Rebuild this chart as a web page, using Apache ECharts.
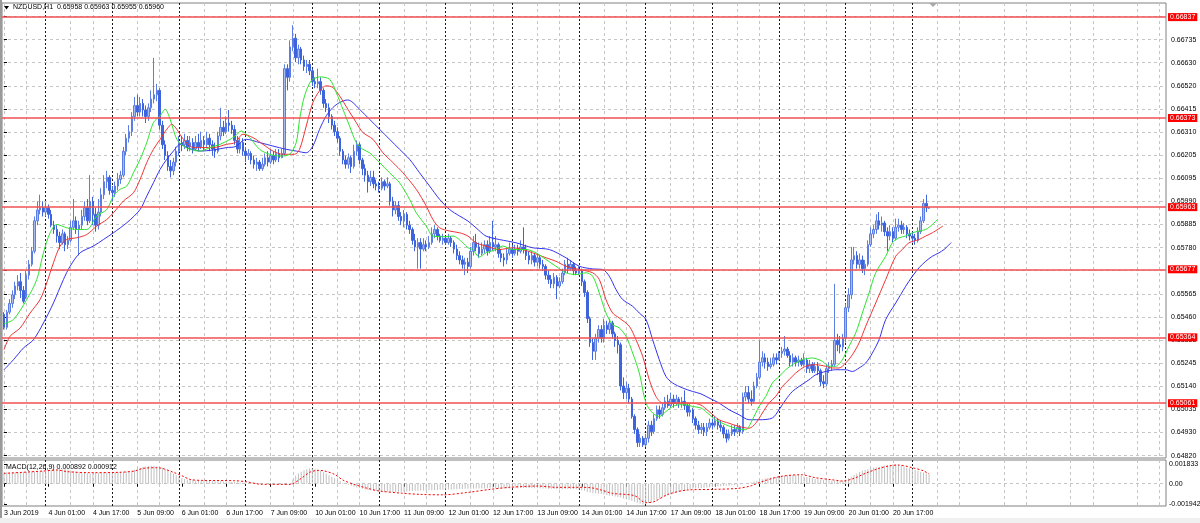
<!DOCTYPE html>
<html><head><meta charset="utf-8">
<script src="https://cdn.jsdelivr.net/npm/echarts@6/dist/echarts.min.js"></script>
<style>html,body{margin:0;padding:0;background:#fff}#c{width:1200px;height:523px}</style>
</head><body><div id="c"></div>
<script>
// ---------- texts ----------
const symbolTitle = 'NZDUSD,H1  0.65958 0.65963 0.65955 0.65960';
const macdTitle = 'MACD(12,26,9) 0.000892 0.000912';
// ---------- time axis (one label every 16 H1 bars, bar 0 = 3 Jun 09:00) ----------
const timeLabels = ['3 Jun 2019','4 Jun 01:00','4 Jun 17:00','5 Jun 09:00','6 Jun 01:00','6 Jun 17:00','7 Jun 09:00',
  '10 Jun 01:00','10 Jun 17:00','11 Jun 09:00','12 Jun 01:00','12 Jun 17:00','13 Jun 09:00','14 Jun 01:00',
  '14 Jun 17:00','17 Jun 09:00','18 Jun 01:00','18 Jun 17:00','19 Jun 09:00','20 Jun 01:00','20 Jun 17:00'];
const labelEvery = 16;
const firstDayStartBar = 15;   // 4 Jun 00:00
// ---------- price axis ----------
const priceTickLabels = ['0.64820','0.64930','0.65035','0.65140','0.65245','0.65355','0.65460','0.65565','0.65670','0.65780',
  '0.65885','0.65990','0.66095','0.66205','0.66310','0.66415','0.66520','0.66630','0.66735','0.66840'];
const priceTickStart = 0.64820, priceTickStep = 0.001063;
const levels = [0.66837, 0.66373, 0.65963, 0.65677, 0.65364, 0.65061];
const macdTickValues = [0.001833, 0, -0.001942];
const macdTickLabels = ['0.001833', '0.00', '-0.001942'];
// ---------- candles: [open, close, low, high] in points (1e-5) ----------
const ohlc = [
[65470,65410,65400,65480],[65410,65480,65400,65490],[65480,65520,65470,65540],[65520,65560,65500,65580],[65560,65600,65540,65620],
[65600,65620,65580,65650],[65620,65580,65545,65660],[65580,65530,65520,65600],[65550,65650,65540,65670],[65650,65700,65630,65720],
[65700,65760,65690,65780],[65760,65900,65750,65920],[65900,65950,65880,65990],[65950,65960,65930,66020],[65960,65940,65920,65990],
[65940,65960,65920,65985],[65960,65930,65910,65975],[65930,65880,65870,65950],[65880,65860,65840,65900],[65860,65830,65800,65880],
[65830,65800,65770,65850],[65800,65840,65790,65860],[65840,65790,65760,65850],[65790,65810,65770,65830],[65810,65870,65800,65900],
[65870,65900,65860,66000],[65900,65860,65840,65920],[65860,65880,65740,65900],[65880,65920,65860,65950],[65920,65960,65900,65990],
[65960,65900,65880,66000],[65900,65990,65890,66110],[65990,65930,65880,66010],[65930,65880,65850,65960],[65880,65940,65860,66000],
[65940,66020,65920,66050],[66020,66080,66000,66110],[66080,66100,66050,66130],[66100,66040,66020,66110],[66040,66030,65990,66060],
[66030,66060,66010,66080],[66060,66090,66040,66120],[66090,66110,66070,66130],[66110,66220,66100,66240],[66220,66280,66200,66300],
[66280,66310,66260,66340],[66310,66380,66290,66400],[66380,66430,66360,66470],[66430,66400,66380,66480],[66400,66440,66380,66470],
[66440,66410,66380,66460],[66410,66380,66350,66430],[66380,66420,66360,66440],[66420,66460,66400,66500],[66460,66480,66440,66650],
[66480,66500,66450,66530],[66500,66340,66320,66510],[66340,66250,66230,66360],[66250,66200,66180,66270],[66200,66150,66130,66220],
[66150,66130,66100,66180],[66130,66170,66110,66190],[66170,66220,66150,66240],[66220,66260,66200,66290],[66260,66250,66220,66290],
[66250,66270,66230,66300],[66270,66240,66220,66290],[66240,66260,66220,66290],[66260,66230,66210,66280],[66230,66260,66220,66290],
[66260,66240,66220,66300],[66240,66270,66230,66310],[66270,66250,66220,66290],[66250,66280,66240,66310],[66280,66250,66220,66300],
[66250,66230,66200,66270],[66230,66220,66190,66260],[66220,66290,66210,66310],[66290,66330,66270,66420],[66330,66310,66290,66360],
[66310,66350,66300,66380],[66350,66340,66310,66410],[66340,66320,66300,66360],[66320,66270,66250,66340],[66270,66230,66210,66290],
[66230,66260,66210,66280],[66260,66220,66200,66280],[66220,66200,66170,66240],[66200,66210,66180,66230],[66210,66180,66160,66220],
[66180,66160,66140,66200],[66160,66170,66130,66190],[66170,66140,66130,66180],[66140,66160,66130,66190],[66160,66190,66150,66210],
[66190,66170,66150,66220],[66170,66200,66160,66230],[66200,66180,66160,66220],[66180,66210,66170,66230],[66210,66190,66170,66230],
[66190,66210,66190,66230],[66210,66600,66200,66620],[66600,66560,66500,66620],[66560,66700,66540,66730],[66700,66740,66680,66800],
[66740,66650,66630,66760],[66650,66690,66620,66710],[66690,66640,66620,66700],[66640,66610,66590,66660],[66610,66620,66580,66640],
[66620,66590,66570,66640],[66590,66540,66520,66600],[66540,66530,66510,66560],[66530,66540,66510,66600],[66540,66500,66480,66560],
[66500,66440,66420,66510],[66440,66420,66400,66460],[66420,66380,66350,66440],[66380,66340,66320,66390],[66340,66310,66290,66360],
[66310,66280,66260,66330],[66280,66220,66200,66290],[66220,66180,66160,66230],[66180,66160,66140,66200],[66160,66190,66140,66210],
[66190,66150,66120,66200],[66150,66220,66140,66250],[66220,66250,66200,66270],[66250,66180,66160,66260],[66180,66140,66110,66190],
[66140,66110,66080,66160],[66110,66080,66030,66130],[66080,66100,66060,66130],[66100,66070,66050,66130],[66070,66060,66040,66090],
[66060,66050,66030,66080],[66050,66080,66040,66100],[66080,66060,66040,66090],[66060,66070,66050,66100],[66070,65990,65970,66080],
[65990,65950,65920,66010],[65950,65970,65930,65990],[65970,65920,65900,65990],[65920,65900,65880,65940],[65900,65930,65870,65950],
[65930,65880,65860,65940],[65880,65860,65840,65900],[65860,65810,65790,65870],[65810,65780,65760,65840],[65780,65800,65680,65820],
[65800,65770,65680,65820],[65770,65790,65760,65820],[65790,65780,65760,65810],[65780,65800,65770,65830],[65800,65840,65790,65870],
[65840,65860,65820,65880],[65860,65830,65810,65870],[65830,65810,65800,65840],[65810,65820,65790,65840],[65820,65800,65790,65830],
[65800,65820,65790,65840],[65820,65800,65780,65830],[65800,65770,65750,65810],[65770,65740,65720,65790],[65740,65720,65700,65760],
[65720,65700,65680,65740],[65700,65710,65650,65730],[65710,65690,65660,65730],[65690,65760,65680,65780],[65760,65800,65740,65830],
[65800,65780,65760,65840],[65780,65750,65730,65800],[65750,65770,65740,65800],[65770,65790,65750,65810],[65790,65760,65740,65810],
[65760,65800,65750,65830],[65800,65780,65760,65900],[65780,65790,65760,65830],[65790,65750,65730,65800],[65750,65730,65710,65770],
[65730,65720,65690,65750],[65720,65750,65700,65770],[65750,65770,65740,65800],[65770,65750,65730,65790],[65750,65770,65740,65790],
[65770,65760,65740,65790],[65760,65780,65750,65810],[65780,65770,65750,65870],[65770,65740,65720,65790],[65740,65720,65700,65760],
[65720,65740,65700,65760],[65740,65710,65690,65750],[65710,65730,65690,65750],[65730,65700,65680,65740],[65700,65690,65670,65720],
[65690,65650,65630,65700],[65650,65630,65610,65670],[65630,65610,65590,65650],[65610,65640,65590,65660],[65640,65600,65540,65650],
[65600,65620,65590,65640],[65620,65660,65610,65680],[65660,65700,65650,65720],[65700,65680,65660,65730],[65680,65700,65670,65720],
[65700,65670,65650,65710],[65670,65660,65650,65690],[65660,65670,65650,65690],[65670,65620,65600,65680],[65620,65570,65550,65630],
[65570,65450,65430,65580],[65450,65340,65320,65460],[65340,65300,65260,65360],[65300,65360,65260,65380],[65360,65400,65340,65420],
[65400,65360,65340,65420],[65360,65420,65340,65450],[65420,65400,65380,65440],[65400,65430,65380,65450],[65430,65380,65360,65440],
[65380,65350,65320,65390],[65350,65330,65290,65370],[65330,65140,65120,65340],[65140,65110,65080,65180],[65110,65130,65080,65160],
[65130,65080,65060,65150],[65080,65000,64990,65090],[65000,64940,64920,65010],[64940,64880,64860,64950],[64880,64900,64860,64920],
[64900,64870,64860,64910],[64870,64900,64860,64920],[64900,64960,64880,64980],[64960,64930,64910,64980],[64930,64990,64920,65010],
[64990,65030,64980,65050],[65030,65010,64990,65050],[65010,65040,65000,65060],[65040,65070,65030,65090],[65070,65050,65040,65100],
[65050,65080,65040,65110],[65080,65060,65040,65100],[65060,65080,65050,65100],[65080,65060,65040,65090],[65060,65070,65040,65090],
[65070,65050,65030,65120],[65050,65020,65000,65060],[65020,65030,65000,65060],[65030,64990,64970,65040],[64990,64960,64940,65000],
[64960,64940,64920,64980],[64940,64950,64920,64970],[64950,64930,64910,64970],[64930,64950,64910,64970],[64950,64970,64940,64990],
[64970,64960,64940,64990],[64960,64980,64950,65000],[64980,64960,64940,64990],[64960,64950,64930,64980],[64950,64920,64900,64960],
[64920,64900,64880,64940],[64900,64920,64890,64940],[64920,64940,64910,64960],[64940,64930,64910,64960],[64930,64950,64920,64970],
[64950,64930,64910,64960],[64930,65090,64920,65110],[65090,65110,65070,65140],[65110,65080,65060,65140],[65080,65070,65050,65120],
[65070,65140,65060,65160],[65140,65180,65130,65200],[65180,65250,65170,65350],[65250,65270,65230,65300],[65270,65250,65220,65290],
[65250,65230,65210,65270],[65230,65240,65220,65270],[65240,65270,65230,65290],[65270,65260,65240,65290],[65260,65290,65260,65300],
[65290,65300,65270,65320],[65300,65310,65280,65370],[65310,65280,65270,65320],[65280,65250,65230,65300],[65250,65270,65230,65290],
[65270,65250,65230,65280],[65250,65260,65230,65280],[65260,65240,65230,65270],[65240,65260,65230,65290],[65260,65220,65200,65270],
[65220,65240,65200,65260],[65240,65210,65200,65250],[65210,65230,65200,65250],[65230,65210,65190,65250],[65210,65160,65140,65220],
[65160,65150,65130,65190],[65150,65220,65140,65240],[65220,65230,65200,65250],[65230,65240,65210,65260],[65240,65350,65230,65610],
[65350,65330,65300,65380],[65330,65320,65290,65370],[65320,65360,65300,65380],[65360,65500,65340,65520],[65500,65560,65480,65590],
[65560,65720,65540,65780],[65720,65740,65700,65780],[65740,65700,65680,65760],[65700,65720,65680,65750],[65720,65680,65660,65740],
[65680,65700,65650,65720],[65700,65790,65690,65810],[65790,65840,65780,65870],[65840,65860,65820,65880],[65860,65900,65840,65930],
[65900,65880,65860,65940],[65880,65890,65850,65920],[65890,65850,65830,65900],[65850,65830,65760,65870],[65830,65850,65810,65880],
[65850,65820,65800,65870],[65820,65870,65810,65910],[65870,65880,65850,65910],[65880,65860,65840,65900],[65860,65870,65840,65890],
[65870,65840,65820,65880],[65840,65830,65810,65860],[65830,65820,65800,65850],[65820,65810,65790,65840],[65810,65850,65800,65870],
[65850,65900,65840,65920],[65900,65980,65890,66000],[65980,65960,65940,66020],[65958,65960,65955,65963]
];
// ---------- Alligator lines: [bar, price in points] ----------
const lips = [[0,65427],[3.4,65446],[8.2,65538],[11.8,65630],[14.2,65753],[16.6,65845],[19,65883],[22.6,65868],[26.2,65860],[29.8,65860],
[33.4,65922],[37,65952],[39.4,66014],[41.8,66045],[44.2,66060],[46.6,66121],[49,66183],[51.4,66260],[53.8,66352],[56.2,66383],[58,66413],
[59.8,66367],[62.2,66275],[64.6,66244],[67,66229],[70.6,66221],[74.2,66237],[77.8,66252],[81.4,66275],[83.2,66290],[85.4,66313],[88.4,66283],
[92,66229],[95.6,66206],[99.2,66198],[102.8,66206],[105.2,66260],[106.4,66367],[108.2,66475],[110.6,66544],[113.6,66562],[117.2,66551],
[119.6,66490],[122,66413],[124.4,66336],[126.8,66260],[129.2,66229],[131.6,66213],[135.2,66168],[138.8,66121],[142.4,66075],[146,65999],
[148.4,65937],[152,65876],[154.4,65830],[158,65827],[161.6,65830],[165.2,65799],[167,65776],[168.7,65768],[171.1,65734],[173.5,65753],
[177.1,65768],[179.5,65784],[183.1,65768],[187.9,65768],[191.5,65753],[195.1,65722],[198.7,65691],[202.3,65661],[205.9,65653],[209.5,65661],
[211.9,65645],[214.3,65568],[216.7,65476],[219.1,65423],[221.5,65407],[223.9,65369],[226.3,65292],[228.7,65200],[231.1,65062],[233.5,65016],
[235.9,65000],[238.3,65023],[240.7,65046],[243.1,65054],[245.5,65054],[247.9,65046],[250.9,65039],[252.6,65023],[256.2,64985],[259.8,64962],
[263.4,64946],[267,64939],[269.4,64985],[271.8,65046],[274.2,65092],[276.6,65154],[279,65184],[281.4,65215],[283.8,65238],[287.4,65261],
[291,65269],[294.6,65254],[297,65231],[299.4,65231],[301.8,65261],[304.2,65323],[306.6,65384],[309,65476],[311.4,65568],[313.8,65661],
[317.4,65737],[319.8,65799],[322.2,65822],[324.6,65830],[327,65845],[329.4,65853],[331.8,65860],[334.2,65883],[336,65906]];
const teeth = [[0,65307],[2.2,65369],[5.8,65407],[9.4,65476],[13,65538],[15.4,65615],[17.8,65707],[20.2,65784],[22.6,65814],[26.2,65822],
[29.8,65837],[33.4,65876],[37,65906],[39.4,65937],[43,65991],[46.6,66029],[49,66091],[51.4,66168],[53.8,66229],[56.2,66275],[58.6,66321],
[60.4,66344],[62.2,66321],[64.6,66275],[68.2,66237],[71.8,66237],[75.4,66237],[80.2,66252],[83.2,66260],[86,66298],[89.6,66283],[93.2,66252],
[96.8,66221],[100.4,66206],[104.6,66206],[106.4,66229],[108.8,66336],[111.2,66444],[113.6,66498],[116,66521],[118.4,66513],[120.8,66475],
[123.8,66413],[126.8,66352],[129.2,66306],[132.8,66275],[136.4,66213],[140,66168],[143.6,66121],[148.4,66045],[152,65968],[154.4,65906],
[156.8,65868],[160.4,65853],[164,65845],[167,65830],[169.9,65799],[173.5,65784],[178.3,65768],[183.1,65776],[186.7,65768],[190.3,65753],
[195.1,65730],[198.7,65714],[202.3,65691],[207.1,65676],[211.9,65661],[214.3,65630],[216.7,65538],[219.1,65476],[221.5,65453],[225.1,65415],
[227.5,65353],[229.9,65277],[232.3,65169],[234.7,65092],[237.1,65062],[240.7,65062],[245.5,65062],[250.5,65055],[253.8,65023],[257.4,64985],
[261,64969],[264.6,64954],[268.2,64946],[270.6,64969],[273,65016],[275.4,65062],[277.8,65092],[280.2,65138],[282.6,65169],[285,65200],
[288.6,65231],[292.2,65238],[295.8,65231],[298.2,65223],[300.6,65223],[303,65246],[305.4,65284],[307.8,65338],[310.2,65415],[313.8,65522],
[317.4,65630],[321,65737],[323.4,65768],[325.8,65799],[329.4,65814],[331.8,65830],[334.2,65845],[338,65876]];
const jaw = [[0,65215],[3.4,65261],[7,65315],[10.6,65353],[14.2,65430],[17.8,65522],[21.4,65630],[23.8,65691],[27.4,65753],[32.2,65784],
[35.8,65814],[39.4,65845],[44.2,65891],[49,65952],[51.4,66014],[53.8,66075],[56.2,66137],[58.6,66183],[61,66221],[63.4,66252],[65.8,66237],
[70.6,66221],[75.4,66226],[80.2,66237],[83.2,66241],[87.2,66275],[92,66260],[96.8,66244],[101.6,66229],[105.2,66221],[108.8,66213],
[111.2,66244],[113.6,66321],[116,66383],[118.4,66421],[120.8,66444],[123.8,66456],[125.6,66444],[128,66413],[131.6,66367],[135.2,66321],
[138.8,66275],[142.4,66229],[146,66183],[149.6,66121],[153.2,66060],[156.8,65999],[160.4,65952],[164,65922],[167,65899],[169.9,65868],
[173.5,65830],[178.3,65814],[184.3,65799],[190.3,65776],[196.3,65768],[202.3,65730],[207.1,65691],[211.9,65679],[215.5,65676],[217.9,65645],
[220.3,65584],[222.7,65538],[226.3,65507],[228.7,65476],[231.1,65446],[233.5,65353],[235.9,65261],[238.3,65184],[240.7,65154],[244.3,65131],
[247.9,65115],[250.9,65104],[253.8,65085],[257.4,65062],[261,65031],[264.6,65008],[268.2,64985],[271.8,64985],[276.6,64993],[279,65031],
[281.4,65077],[283.8,65115],[286.2,65138],[289.8,65169],[292.2,65192],[295.8,65207],[299.4,65215],[303,65215],[305.4,65207],[307.8,65223],
[310.2,65246],[312.6,65292],[315,65353],[317.4,65446],[321,65522],[324.6,65599],[327,65645],[329.4,65684],[331.8,65714],[334.2,65737],
[336.6,65753],[338.4,65768],[341,65800]];
// ---------- MACD (1e-5 units) ----------
const macdMain = [
105,106,107,108,108,109,110,111,112,113,114,115,116,118,120,
124,127,130,132,134,135,136,135,
130,124,118,112,106,102,99,97,96,
97,99,101,103,104,105,106,107,108,109,110,112,115,118,122,
130,140,150,158,163,166,168,167,164,158,150,
138,124,108,92,78,64,52,
44,40,36,34,32,30,29,28,27,26,25,24,23,22,21,20,19,17,
15,13,11,9,8,7,6,5,4,3,2,
0,-2,-4,-6,-8,-9,-10,-11,-10,-8,
40,75,95,112,
125,135,141,143,140,132,
120,108,95,80,65,50,
35,22,10,0,
-10,-20,-28,-35,-42,-48,-53,-58,-62,-66,-69,-72,-74,-76,-77,-78,-78,-77,-76,
-75,-74,-72,-70,-68,-66,-65,-64,-63,-62,-61,-60,-59,-58,-57,-56,
-55,-54,-53,-52,-51,-50,-49,-48,-47,-46,-45,-45,-44,-44,-44,-43,-43,-43,-43,-44,-44,
-44,-44,-44,-43,-42,-42,-41,-40,-40,-40,-41,-42,-42,-43,-44,-45,-46,-48,-50,-52,-52,-51,-50,-49,-49,-50,-52,-55,
-60,-66,-74,-82,-88,-90,-92,-95,
-100,-106,-110,-115,-120,-124,-130,-138,-145,-152,-160,-168,
-178,-188,-194,-190,
-180,-170,-160,-150,-140,-130,-120,-110,
-100,-92,-84,-76,-70,-64,-58,-52,-48,
-45,-42,-40,-38,-35,-32,-30,
-28,-26,-24,-22,-20,-18,-15,-12,-10,-8,-4,0,5,12,20,
28,35,42,48,54,58,62,65,68,
72,75,78,80,81,80,78,74,
68,62,56,50,45,
42,40,38,35,32,30,28,26,25,28,
40,52,66,82,96,
110,120,128,136,142,148,153,
158,163,168,173,178,182,183,178,
170,160,150,144,137,
128,120,112,104,96,89];
const macdSignal = [[0,96],[14,118],[19,128],[23,112],[31,103],[41,106],[47,118],[50,143],[55,149],[57,143],[61,106],[64,75],[67,40],
[71,31],[83,28],[87,19],[93,-6],[103,-6],[107,50],[110,106],[113,124],[115,121],[119,87],[122,34],[126,-6],[131,-44],[135,-68],[143,-88],
[150,-100],[158,-104],[167,-81],[175,-53],[182,-34],[192,-22],[199,-34],[207,-34],[211,-37],[215,-59],[219,-90],[227,-112],[231,-177],
[234,-168],[239,-100],[246,-59],[255,-53],[264,-44],[269,-19],[272,12],[279,65],[287,84],[292,56],[298,37],[302,25],[306,50],[310,96],
[315,143],[319,168],[322,174],[327,149],[331,120],[333,91]];

// ---------- build ----------
const P = v => v / 100000;
const font = 'Liberation Sans, Arial, sans-serif';
const XMIN = -0.72, XMAX = 418.3;
const Y0MIN = 0.6480901, Y0MAX = 0.6690193;
const Y1MIN = -0.002082, Y1MAX = 0.002213;
const gridLineBars = []; for (let i = 0; i <= XMAX; i += 8) if (i % 24 !== 16) gridLineBars.push(i);
const dayStarts = []; for (let i = firstDayStartBar; i < ohlc.length; i += 24) dayStarts.push(i);
const labelBars = timeLabels.map((_, k) => k * labelEvery);
const priceTicks = priceTickLabels.map((_, k) => priceTickStart + k * priceTickStep);

const lightDash = {color: '#c6c6c6', width: 1, type: [3, 3]};
const darkDash = {color: '#1a1a1a', width: 1, type: [2, 2]};
const baseX = g => ({type: 'value', gridIndex: g, min: XMIN, max: XMAX, position: 'bottom',
  axisLine: {show: false}, axisTick: {show: false}, axisLabel: {show: false}, splitLine: {show: false}});

const chart = echarts.init(document.getElementById('c'), null, {renderer: 'canvas'});
chart.setOption({
  animation: false,
  backgroundColor: '#ffffff',
  grid: [
    {left: 2, right: 34, top: 3, height: 455, show: true, borderColor: '#808080', borderWidth: 1, outerBoundsMode: 'none'},
    {left: 2, right: 34, top: 460, height: 46, show: true, borderColor: '#808080', borderWidth: 1, outerBoundsMode: 'none'}
  ],
  xAxis: [
    Object.assign(baseX(0), {axisTick: {show: false, customValues: gridLineBars}, splitLine: {show: true, lineStyle: lightDash}}),
    Object.assign(baseX(0), {axisTick: {show: false, customValues: dayStarts}, splitLine: {show: true, lineStyle: darkDash}}),
    Object.assign(baseX(1), {
      axisTick: {show: true, customValues: labelBars, length: 3, lineStyle: {color: '#000'}},
      axisLabel: {show: true, customValues: labelBars, formatter: v => timeLabels[Math.round(v / labelEvery)],
        align: 'left', fontSize: 7, fontFamily: font, color: '#000', margin: 4}
    }),
    Object.assign(baseX(1), {axisTick: {show: false, customValues: gridLineBars}, splitLine: {show: true, lineStyle: lightDash}}),
    Object.assign(baseX(1), {axisTick: {show: false, customValues: dayStarts}, splitLine: {show: true, lineStyle: darkDash}})
  ],
  yAxis: [
    {type: 'value', gridIndex: 0, position: 'right', min: Y0MIN, max: Y0MAX, axisLine: {show: false},
      axisTick: {show: true, customValues: priceTicks, length: 3, lineStyle: {color: '#000'}},
      axisLabel: {customValues: priceTicks, formatter: v => priceTickLabels[Math.round((v - priceTickStart) / priceTickStep)],
        fontSize: 7, fontFamily: font, color: '#000', margin: 5},
      splitLine: {show: true, lineStyle: lightDash}},
    {type: 'value', gridIndex: 1, position: 'right', min: Y1MIN, max: Y1MAX, axisLine: {show: false},
      axisTick: {show: true, customValues: macdTickValues, length: 3, lineStyle: {color: '#000'}},
      axisLabel: {customValues: macdTickValues, formatter: v => macdTickLabels[macdTickValues.findIndex(t => Math.abs(t - v) < 1e-9)],
        fontSize: 7, fontFamily: font, color: '#000', margin: 3},
      splitLine: {show: false}},
    {type: 'value', gridIndex: 1, position: 'right', min: Y1MIN, max: Y1MAX, axisLine: {show: false},
      axisTick: {show: false, customValues: [0]}, axisLabel: {show: false},
      splitLine: {show: true, lineStyle: lightDash}}
  ],
  series: [
    {type: 'candlestick', xAxisIndex: 0, yAxisIndex: 0, barWidth: 2,
      data: ohlc.map((d, i) => [i, P(d[0]), P(d[1]), P(d[2]), P(d[3])]),
      itemStyle: {color: '#a9bcf1', color0: '#3d64dc', borderColor: '#5b7de4', borderColor0: '#3d64dc', borderWidth: 1}},
    {type: 'line', xAxisIndex: 0, yAxisIndex: 0, data: jaw.map(d => [d[0], P(d[1])]), showSymbol: false, smooth: 0.3,
      lineStyle: {color: '#3434f0', width: 1},
      markLine: {silent: true, symbol: 'none', animation: false, precision: 5,
        data: levels.map(v => ({yAxis: v,
          lineStyle: {color: '#f05050', width: 1.5, type: 'solid'},
          label: {show: true, position: 'end', formatter: v.toFixed(5), color: '#ffffff', backgroundColor: '#ff0000',
            fontSize: 7, fontFamily: font, padding: [1, 2, 0, 2], distance: 2}}))}},
    {type: 'line', xAxisIndex: 0, yAxisIndex: 0, data: teeth.map(d => [d[0], P(d[1])]), showSymbol: false, smooth: 0.3,
      lineStyle: {color: '#f03434', width: 1}},
    {type: 'line', xAxisIndex: 0, yAxisIndex: 0, data: lips.map(d => [d[0], P(d[1])]), showSymbol: false, smooth: 0.3,
      lineStyle: {color: '#2ee62e', width: 1}},
    {type: 'bar', xAxisIndex: 2, yAxisIndex: 1, data: macdMain.map((v, i) => [i, P(v)]), barWidth: 1,
      itemStyle: {color: '#c0c0c0'}},
    {type: 'line', xAxisIndex: 2, yAxisIndex: 1, data: macdSignal.map(d => [d[0], P(d[1])]), showSymbol: false, smooth: 0.3,
      lineStyle: {color: '#ff0000', width: 1, type: [2, 2]}}
  ],
  graphic: [
    {type: 'rect', shape: {x: 0, y: 0, width: 2, height: 518}, style: {fill: '#9a9a9a'}, silent: true},
    {type: 'rect', shape: {x: 0, y: 518, width: 1200, height: 5}, style: {fill: '#f0f0f0'}, silent: true},
    {type: 'polygon', shape: {points: [[4, 6], [9, 6], [6.5, 9.5]]}, style: {fill: '#000'}, silent: true},
    {type: 'polygon', shape: {points: [[929, 3], [937, 3], [933, 7]]}, style: {fill: '#a8a8a8'}, silent: true},
    {type: 'text', x: 13, y: 4, style: {text: symbolTitle, font: '7px ' + font, fill: '#000'}, silent: true},
    {type: 'text', x: 6, y: 464, style: {text: macdTitle, font: '7px ' + font, fill: '#000'}, silent: true}
  ]
});
</script></body></html>
